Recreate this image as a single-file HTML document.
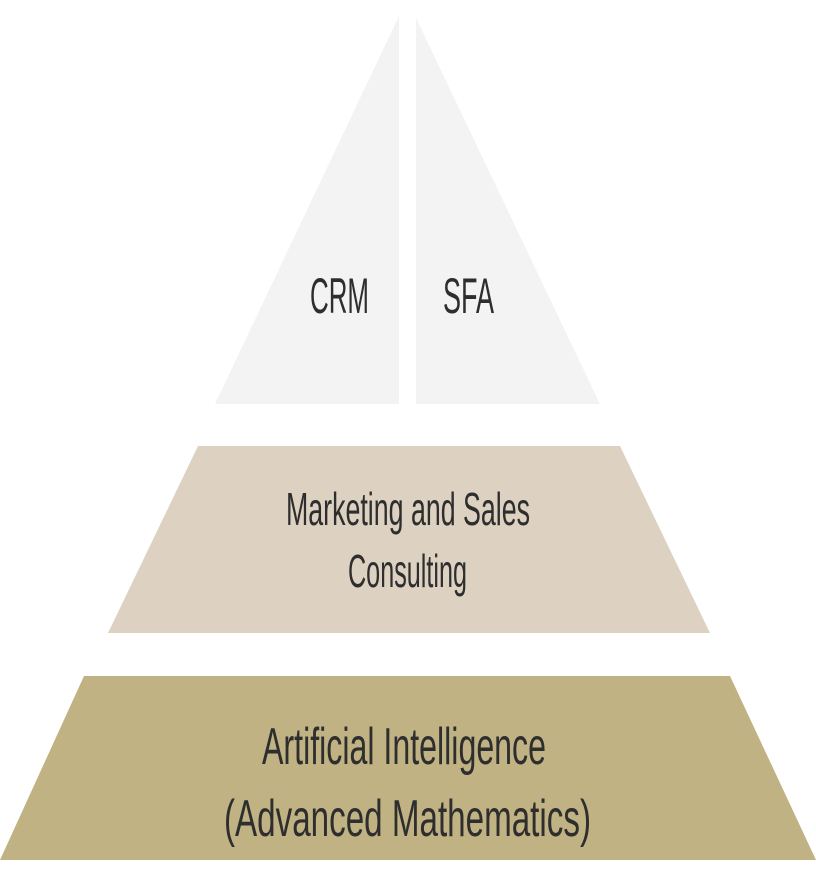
<!DOCTYPE html>
<html><head><style>html,body{margin:0;padding:0;background:#fff}svg{display:block}</style></head>
<body>
<svg width="816" height="876" viewBox="0 0 816 876" xmlns="http://www.w3.org/2000/svg">
<polygon points="399,16 399,404 215,404" fill="#f3f3f3"/>
<polygon points="416,18 416,404 600,404" fill="#f3f3f3"/>
<polygon points="198,446 620,446 710,633 108,633" fill="#ddd1c1"/>
<polygon points="84,676 730,676 816,860 0,860" fill="#c0b283"/>
<g font-family="Liberation Sans Narrow, Liberation Sans, sans-serif" fill="#2e2e2e" font-weight="normal" stroke="#fff0" >
<text x="310" y="313" font-size="50" textLength="59" lengthAdjust="spacingAndGlyphs">CRM</text>
<text x="443" y="313" font-size="50" textLength="51" lengthAdjust="spacingAndGlyphs">SFA</text>
<text x="286" y="525" font-size="46" textLength="244" lengthAdjust="spacingAndGlyphs">Marketing and Sales</text>
<text x="348" y="587" font-size="46" textLength="119" lengthAdjust="spacingAndGlyphs">Consulting</text>
<text x="262" y="764" font-size="52" textLength="284" lengthAdjust="spacingAndGlyphs">Artificial Intelligence</text>
<text x="224" y="836" font-size="52" textLength="367" lengthAdjust="spacingAndGlyphs">(Advanced Mathematics)</text>
</g>
</svg>
</body></html>
